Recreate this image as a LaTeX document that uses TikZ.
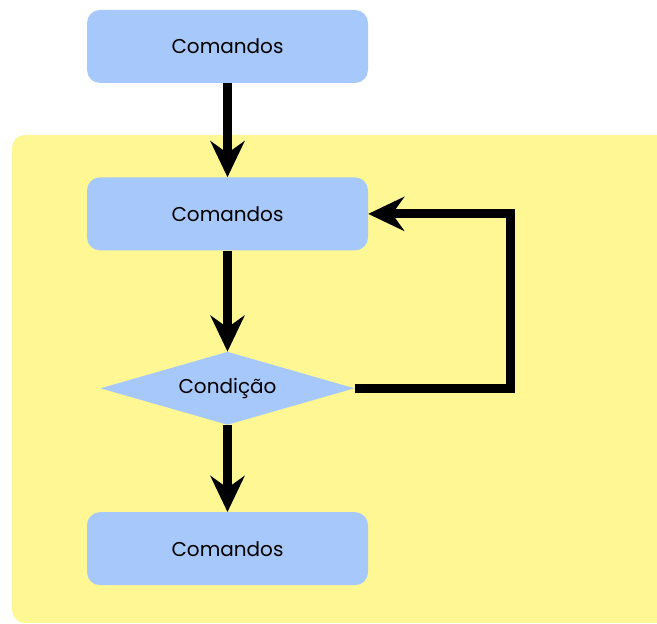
\documentclass[tikz,border=0pt]{standalone}
\usepackage{fontspec}
\setmainfont{Poppins}
\usetikzlibrary{arrows.meta,positioning,shapes.geometric}
\definecolor{boxblue}{RGB}{167,200,250}
\definecolor{loopyellow}{RGB}{254,247,148}
\begin{document}
\begin{tikzpicture}[x=1pt,y=1pt,
  cmd/.style={rectangle,rounded corners=13pt,fill=boxblue,minimum width=281pt,minimum height=73pt,font=\fontsize{20}{24}\selectfont},
  cond/.style={diamond,shape aspect=3.5,fill=boxblue,minimum width=254pt,minimum height=73pt,inner sep=0pt,font=\fontsize{20}{24}\selectfont},
  flow/.style={line width=9pt,-{Stealth[length=36pt,width=34pt,inset=12pt]}}]
\useasboundingbox (0,0) rectangle (657,624);
\fill [loopyellow,rounded corners=13pt] (12,1) rectangle (700,489);

\node (top)[cmd] at (227.5,577.5) {Comandos};
\node (body)[cmd,below=94pt of top] {Comandos};
\node (test)[cond,below=101pt of body] {Condição};
\node (after)[cmd,below=87pt of test] {Comandos};
\coordinate (back) at (510,389);

\draw [flow] (top) to (body);
\draw [flow] (body) to (test);
\draw [flow] (test) to (after);
\draw [flow] (test.east) -| (back) |- (body.east);
\end{tikzpicture}
\end{document}
